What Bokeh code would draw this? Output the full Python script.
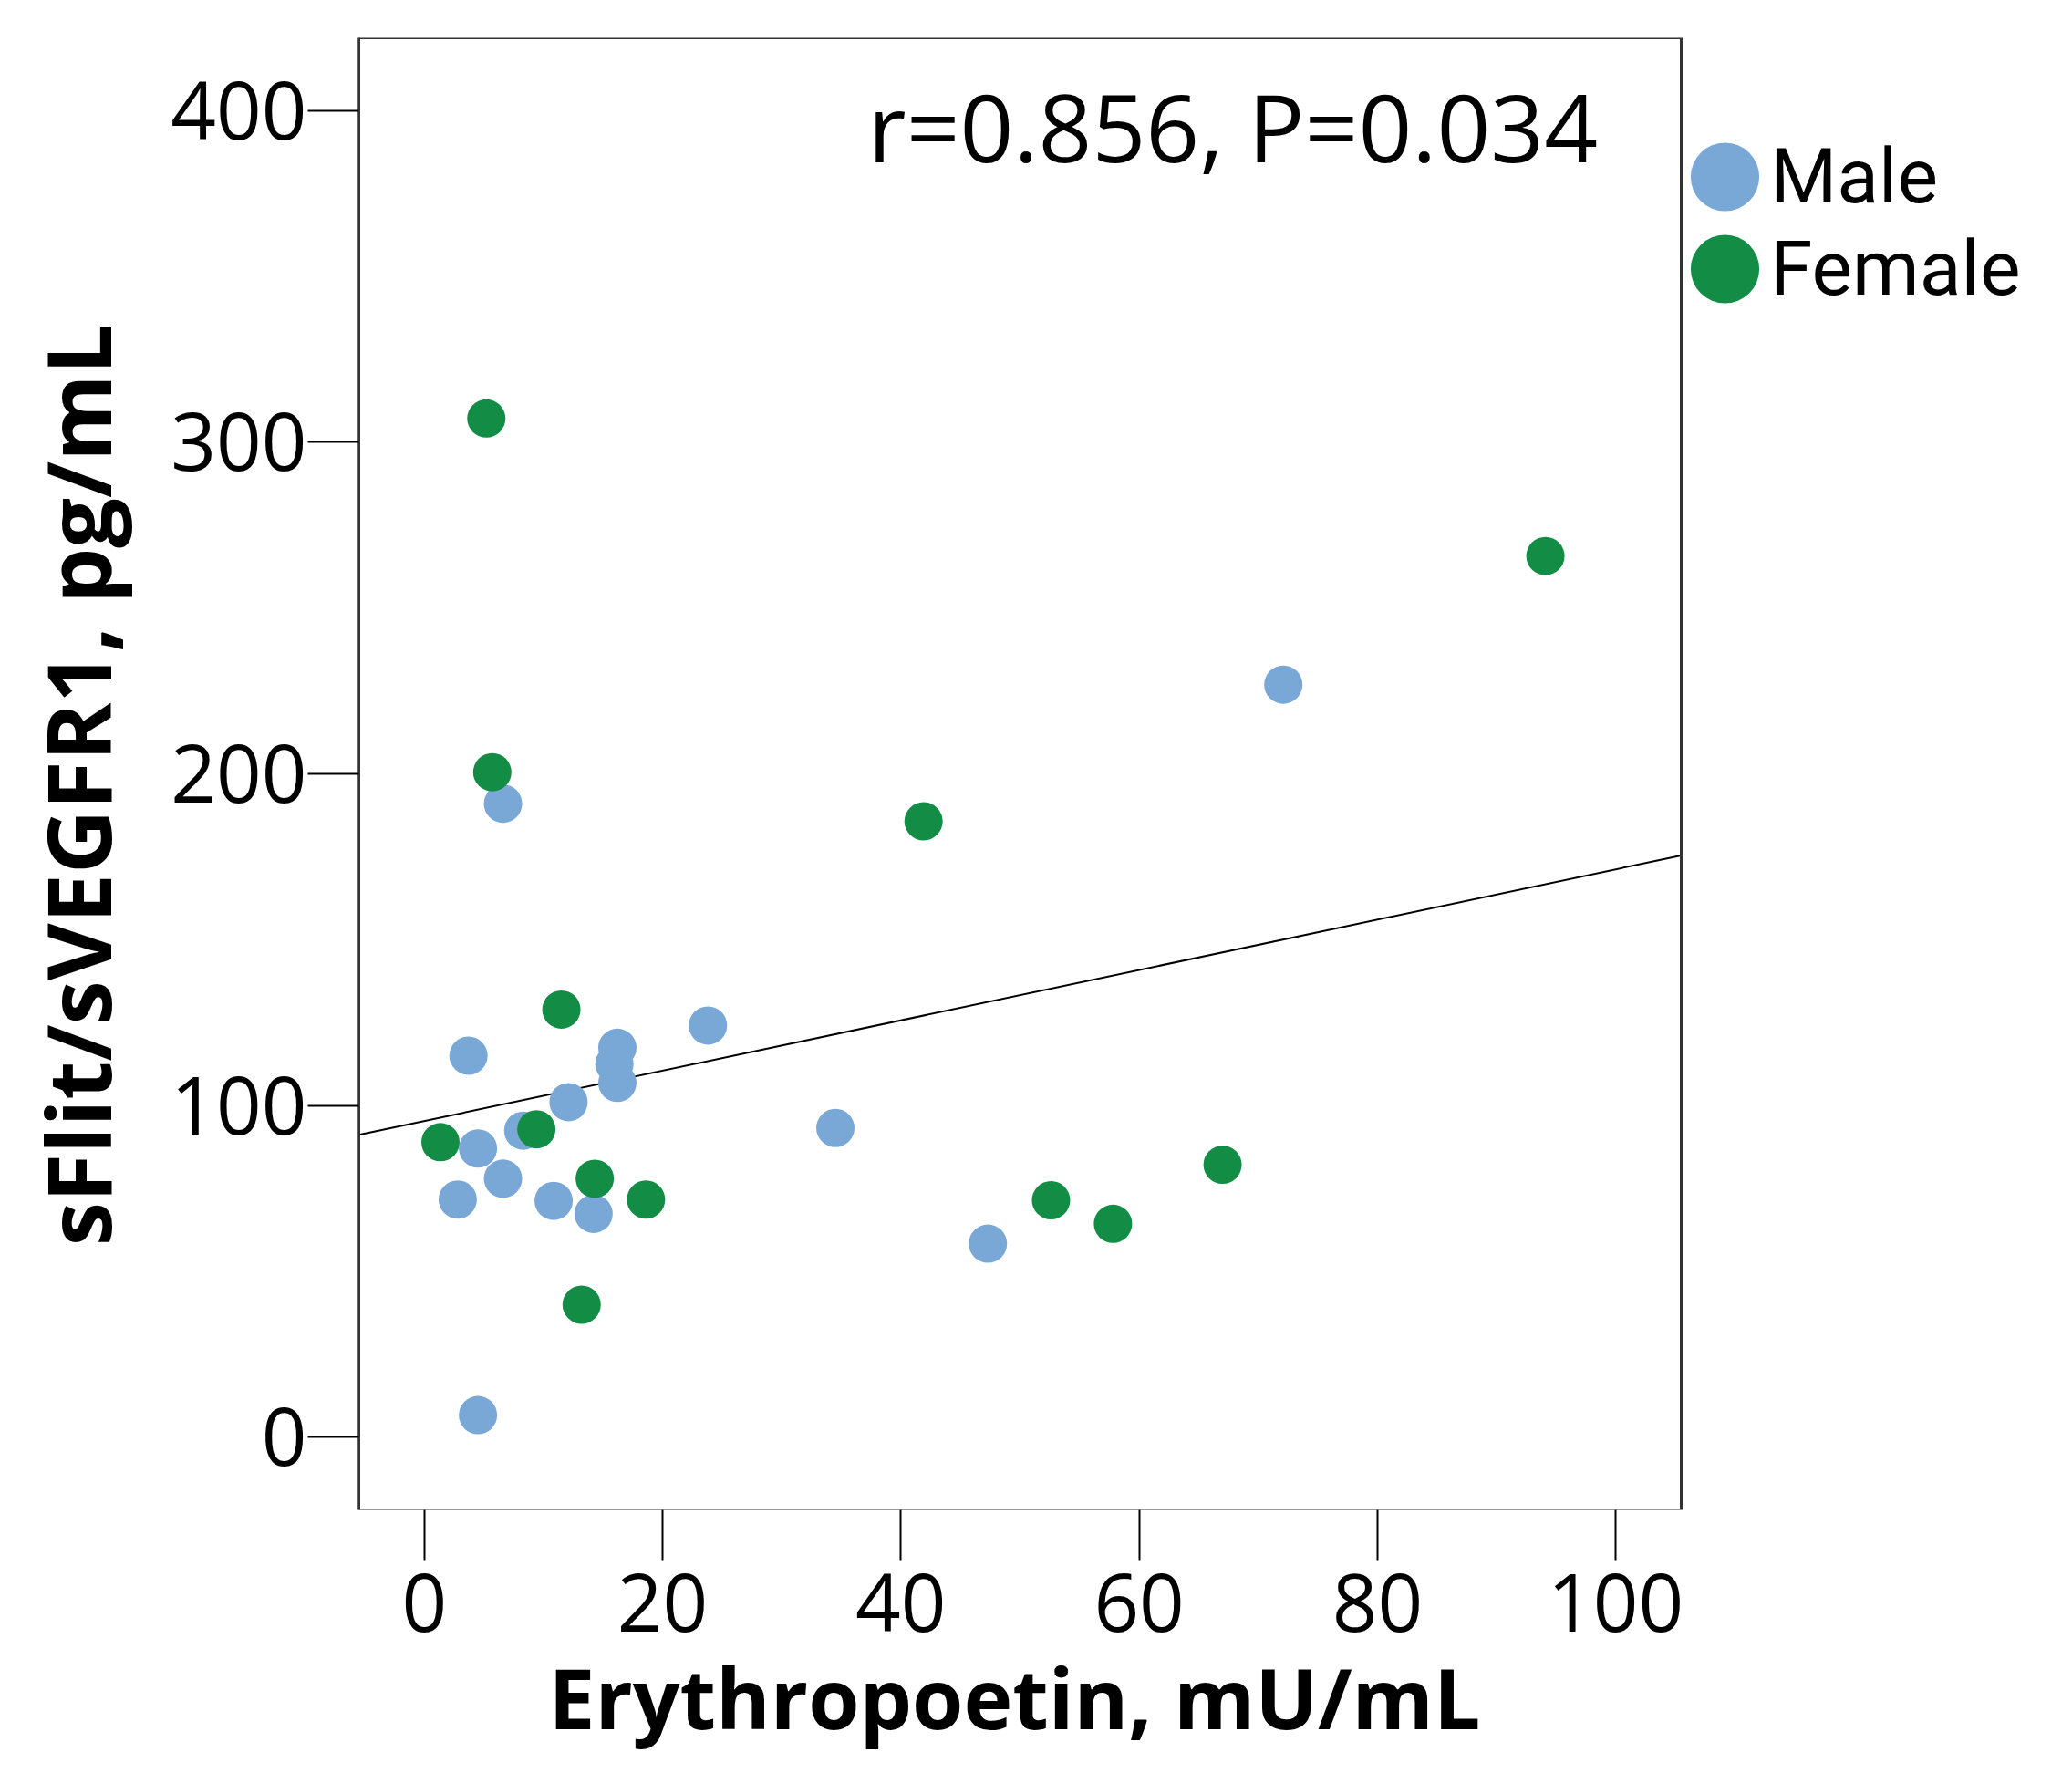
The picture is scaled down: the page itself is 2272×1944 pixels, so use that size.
from bokeh.plotting import figure
from bokeh.models import Range1d, Legend, LegendItem, Label, FixedTicker, BoxAnnotation, Title
from bokeh.embed import file_html
from bokeh.resources import INLINE

# Data
male_x = [6.6, 3.7, 4.5, 2.8, 6.6, 8.3, 12.1, 10.85, 14.2, 16.2, 15.95, 16.2, 23.8, 34.5, 47.3, 72.1, 4.5]
male_y = [191.0, 115.0, 87.0, 71.6, 77.9, 92.4, 101.0, 71.2, 67.3, 117.4, 112.5, 106.8, 124.1, 93.2, 58.3, 226.9, 6.6]
female_x = [5.2, 5.7, 11.5, 1.35, 9.4, 14.3, 18.6, 13.2, 41.9, 52.6, 57.8, 67.0, 94.1]
female_y = [307.2, 200.5, 128.9, 88.9, 92.8, 77.9, 71.6, 39.9, 185.7, 71.4, 64.3, 82.1, 265.7]
fit_intercept = 95.3
fit_slope = 0.759
x_ticks = [0, 20, 40, 60, 80, 100]
y_ticks = [0, 100, 200, 300, 400]
x_lim = (-5.5, 105.5)
y_lim = (-22.0, 422.0)
stats_text = "r=0.856, P=0.034"
x_title = "Erythropoetin,  mU/mL"
y_title = "sFlit/sVEGFR1,  pg/mL"
groups = ["Male", "Female"]

MALE_C = "#7aa8d6"
FEMALE_C = "#138d46"
FONT = "Open Sans"

# layout (pixels)
FIG_W, FIG_H = 2256, 1928
LEFT, TOP, BOTTOM = 393, 41, 273
BOX_W = 1450  # visible plot box width; the frame runs on to the right edge to hold the legend
x_end = x_lim[0] + (x_lim[1] - x_lim[0]) * (FIG_W - LEFT) / BOX_W

p = figure(width=FIG_W, height=FIG_H, output_backend="svg", toolbar_location=None,
           x_range=Range1d(x_lim[0], x_end), y_range=Range1d(*y_lim),
           min_border_left=LEFT, min_border_right=0, min_border_top=TOP, min_border_bottom=BOTTOM)
p.xgrid.visible = False
p.ygrid.visible = False
p.outline_line_color = None
p.background_fill_color = "white"
p.border_fill_color = "white"

for ax in (p.xaxis[0], p.yaxis[0]):
    ax.axis_line_color = "#333333"
    ax.axis_line_width = 2.5
    ax.major_tick_line_color = "black"
    ax.major_tick_line_width = 2
    ax.major_tick_out = 56
    ax.major_tick_in = 0
    ax.minor_tick_out = 0
    ax.minor_tick_in = 0
    ax.major_label_text_font = FONT
    ax.major_label_text_font_size = "87px"
    ax.major_label_text_color = "black"

p.xaxis.axis_line_color = None
p.xaxis.ticker = FixedTicker(ticks=x_ticks)
p.yaxis.ticker = FixedTicker(ticks=y_ticks)
p.xaxis.major_label_standoff = 14
p.yaxis.major_label_standoff = 1
p.yaxis.axis_label = y_title
p.yaxis.axis_label_text_font = FONT
p.yaxis.axis_label_text_font_style = "bold"
p.yaxis.axis_label_text_font_size = "97px"
p.yaxis.axis_label_text_color = "black"
p.yaxis.axis_label_standoff = 34

# plot box
p.add_layout(BoxAnnotation(left=x_lim[0], right=x_lim[1], bottom=y_lim[0], top=y_lim[1],
                           fill_color=None, fill_alpha=0, line_color="#333333", line_alpha=1.0,
                           line_width=3))

# x-axis title, centred under the plot box
p.add_layout(Title(text=x_title, align="left", offset=208, standoff=10,
                   text_font=FONT, text_font_style="bold", text_font_size="91px",
                   text_color="black"), "below")

# regression line across the x range
lx = [x_lim[0], x_lim[1]]
ly = [fit_intercept + fit_slope * v for v in lx]
p.line(lx, ly, line_color="black", line_width=2)

# points as screen-sized circles
rm = p.ellipse(male_x, male_y, width=42, height=42, width_units="screen", height_units="screen",
               fill_color=MALE_C, line_color=None)
rf = p.ellipse(female_x, female_y, width=42, height=42, width_units="screen", height_units="screen",
               fill_color=FEMALE_C, line_color=None)

lab = Label(x=98.5, y=395.5, text=stats_text, text_align="right", text_baseline="alphabetic",
            text_font=FONT, text_font_size="103px", text_color="black")
p.add_layout(lab)

legend = Legend(items=[LegendItem(label=groups[0], renderers=[rm]),
                       LegendItem(label=groups[1], renderers=[rf])],
                location=(BOX_W + 1, 1310), glyph_width=94, glyph_height=101, spacing=0,
                label_standoff=3, padding=0, margin=0,
                label_text_font="Roboto", label_text_font_size="84px", label_text_color="black",
                border_line_color=None, background_fill_alpha=0)
p.add_layout(legend, "center")

open("out.html", "w").write(file_html(p, INLINE))
